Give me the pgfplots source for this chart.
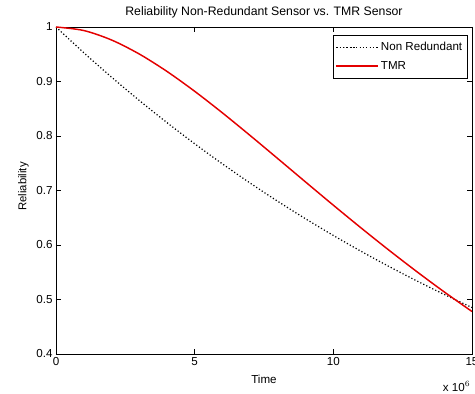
\documentclass[border=0pt]{standalone}
\usepackage{pgfplots}
\pgfplotsset{compat=1.18}
\usepackage{fontspec}
\setmainfont{Liberation Sans}
\definecolor{tmrred}{RGB}{228,0,0}
\begin{document}
\begin{tikzpicture}[x=0.75pt,y=0.75pt]
\begin{axis}[
  name=ax,
  at={(0,0)}, anchor=south west,
  scale only axis,
  width=312pt, height=245.25pt,
  xmin=0, xmax=15, ymin=0.4, ymax=1,
  xtick={0,5,10,15}, ytick={0.4,0.5,0.6,0.7,0.8,0.9,1},
  yticklabels={0.4,0.5,0.6,0.7,0.8,0.9,1},
  tick align=inside, major tick length=3.5pt,
  tick style={black, line width=0.5pt},
  axis line style={line width=0.6pt},
  /pgf/number format/assume math mode=true,
  ticklabel style={font=\fontsize{8.7}{10}\selectfont},
  xticklabel style={yshift=1pt},
  yticklabel style={xshift=1pt},
  title={Reliability Non-Redundant Sensor vs. TMR Sensor},
  title style={font=\fontsize{9.2}{11}\selectfont, yshift=-3pt},
  xlabel={Time},
  xlabel style={font=\fontsize{8.7}{10}\selectfont, yshift=0pt},
  ylabel={Reliability},
  ylabel style={font=\fontsize{8.5}{10}\selectfont, yshift=-1pt, xshift=3pt},
  legend cell align=left,
  legend style={at={(0.99,0.975)}, anchor=north east,
    font=\fontsize{8.7}{10}\selectfont, inner xsep=2pt, inner ysep=3pt, row sep=2.5pt},
  legend image code/.code={\draw[mark repeat=2,mark phase=2,#1] plot coordinates {(0pt,0pt) (15pt,0pt) (31pt,0pt)};},
]
\addplot[black, line width=0.9pt, dash pattern=on 0.9pt off 1.6pt, smooth] coordinates {
(0,1) (1,0.95294) (2,0.90810) (3,0.86536) (4,0.82464) (5,0.78583) (6,0.74885)
(7,0.71361) (8,0.68003) (9,0.64803) (10,0.61753) (11,0.58847) (12,0.56078)
(13,0.53439) (14,0.50924) (15,0.48528)};
\addlegendentry{Non Redundant}
\addplot[color=tmrred, line width=1.1pt, smooth] coordinates {
(0,1) (1,0.99357) (2,0.97622) (3,0.95050) (4,0.91853) (5,0.88205) (6,0.84246)
(7,0.80092) (8,0.75837) (9,0.71555) (10,0.67304) (11,0.63132) (12,0.59071)
(13,0.55150) (14,0.51385) (15,0.47793)};
\addlegendentry{TMR}
\end{axis}
\node[anchor=north east, font=\fontsize{8.7}{10}\selectfont, inner sep=0pt] at ([xshift=-1pt,yshift=-20pt]ax.south east) {x 10$^{6}$};
\pgfresetboundingbox
\path ([xshift=-42pt,yshift=-30pt]ax.south west) rectangle ([xshift=2.25pt,yshift=20.25pt]ax.north east);
\end{tikzpicture}
\end{document}
